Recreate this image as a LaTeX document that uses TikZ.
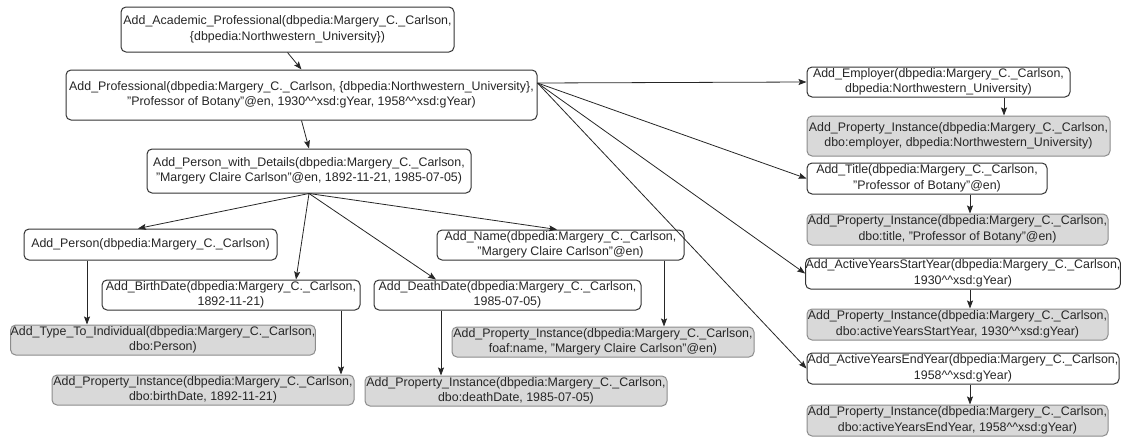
\documentclass[tikz,border=0pt]{standalone}
\usepackage{fontspec}
\setmainfont{Liberation Sans}
\usetikzlibrary{arrows.meta}
\newcommand\mkbox[7]{\node[#2, minimum width={#5-#3}, minimum height={#6-#4}] (#1) at ({(#3+#5)/2},{(#4+#6)/2}) {#7};}
\newcommand\PIa{Add\_Property\_Instance(dbpedia:Margery\_C.\_Carlson,}
\newcommand\cc{\textasciicircum\textasciicircum}
\tikzset{
  basebox/.style={rounded corners=5pt, align=center, inner sep=0pt, text=black!85,
    font=\fontsize{12.4}{15.5}\selectfont},
  wbox/.style={basebox, draw=black!80, line width=1pt, fill=white},
  gbox/.style={basebox, draw=black!45, line width=1pt, fill=black!15},
  arr/.style={draw=black!85, line width=0.8pt, -{Stealth[length=8pt,width=6pt,inset=1.5pt]}},
}
\begin{document}
\begin{tikzpicture}[x=1pt,y=-1pt]
\useasboundingbox (0,0) rectangle (1121,439);
% left part
\mkbox{A}{wbox}{121}{7}{454}{52}{Add\_Academic\_Professional(dbpedia:Margery\_C.\_Carlson,\\\{dbpedia:Northwestern\_University\})}
\mkbox{B}{wbox}{66}{70}{537}{120}{Add\_Professional(dbpedia:Margery\_C.\_Carlson, \{dbpedia:Northwestern\_University\},\\"Professor of Botany"@en, 1930\cc xsd:gYear, 1958\cc xsd:gYear)}
\mkbox{C}{wbox}{147}{149}{471}{193}{Add\_Person\_with\_Details(dbpedia:Margery\_C.\_Carlson,\\"Margery Claire Carlson"@en, 1892-11-21, 1985-07-05)}
\mkbox{P}{wbox}{24}{229}{277}{260}{Add\_Person(dbpedia:Margery\_C.\_Carlson)}
\mkbox{BD}{wbox}{102}{280}{360}{310}{Add\_BirthDate(dbpedia:Margery\_C.\_Carlson,\\1892-11-21)}
\mkbox{T}{gbox}{12}{325}{314}{355}{Add\_Type\_To\_Individual(dbpedia:Margery\_C.\_Carlson,\\dbo:Person)}
\mkbox{PIB}{gbox}{52}{375}{354}{405}{\PIa\\dbo:birthDate, 1892-11-21)}
\mkbox{DD}{wbox}{374}{280}{641}{310}{Add\_DeathDate(dbpedia:Margery\_C.\_Carlson,\\1985-07-05)}
\mkbox{PID}{gbox}{365}{376}{667}{406}{\PIa\\dbo:deathDate, 1985-07-05)}
\mkbox{N}{wbox}{437}{230}{684}{260}{Add\_Name(dbpedia:Margery\_C.\_Carlson,\\"Margery Claire Carlson"@en)}
\mkbox{PIN}{gbox}{452}{327}{754}{357}{\PIa\\foaf:name, "Margery Claire Carlson"@en)}
% right column
\mkbox{E}{wbox}{807}{67}{1070}{97}{Add\_Employer(dbpedia:Margery\_C.\_Carlson,\\dbpedia:Northwestern\_University)}
\mkbox{PIE}{gbox}{807}{116}{1110}{156}{\PIa\\dbo:employer, dbpedia:Northwestern\_University)}
\mkbox{Ti}{wbox}{807}{163}{1047}{194}{Add\_Title(dbpedia:Margery\_C.\_Carlson,\\"Professor of Botany"@en)}
\mkbox{PIT}{gbox}{807}{214}{1108}{245}{\PIa\\dbo:title, "Professor of Botany"@en)}
\mkbox{AS}{wbox}{807}{258}{1119}{289}{Add\_ActiveYearsStartYear(dbpedia:Margery\_C.\_Carlson,\\1930\cc xsd:gYear)}
\mkbox{PIS}{gbox}{807}{309}{1108}{340}{\PIa\\dbo:activeYearsStartYear, 1930\cc xsd:gYear)}
\mkbox{AE}{wbox}{807}{353}{1119}{384}{Add\_ActiveYearsEndYear(dbpedia:Margery\_C.\_Carlson,\\1958\cc xsd:gYear)}
\mkbox{PIX}{gbox}{807}{405}{1108}{436}{\PIa\\dbo:activeYearsEndYear, 1958\cc xsd:gYear)}
% connectors
\draw[arr] (A.south) -- (B.north);
\draw[arr] (B.south) -- (C.north);
\draw[arr] ([yshift=12pt]B.east) -- (E.west);
\draw[arr] ([yshift=12pt]B.east) -- (Ti.west);
\draw[arr] ([yshift=12pt]B.east) -- (AS.west);
\draw[arr] ([yshift=12pt]B.east) -- (AE.west);
\draw[arr] (C.south) -- ([xshift=-12.5pt]P.north);
\draw[arr] (C.south) -- ([xshift=65pt]BD.north);
\draw[arr] (C.south) -- ([xshift=-71.5pt]DD.north);
\draw[arr] (C.south) -- ([xshift=-3.5pt]N.north);
\draw[arr] ([xshift=-63.5pt]P.south) -- ([xshift=-63.5pt]P.south |- T.north);
\draw[arr] ([xshift=110pt]BD.south) -- ([xshift=110pt]BD.south |- PIB.north);
\draw[arr] ([xshift=-66.5pt]DD.south) -- ([xshift=-66.5pt]DD.south |- PID.north);
\draw[arr] ([xshift=103.5pt]N.south) -- ([xshift=103.5pt]N.south |- PIN.north);
\draw[arr] ([xshift=65.5pt]E.south) -- ([xshift=65.5pt]E.south |- PIE.north);
\draw[arr] ([xshift=43pt]Ti.south) -- ([xshift=43pt]Ti.south |- PIT.north);
\draw[arr] ([xshift=7pt]AS.south) -- ([xshift=7pt]AS.south |- PIS.north);
\draw[arr] ([xshift=7pt]AE.south) -- ([xshift=7pt]AE.south |- PIX.north);
\end{tikzpicture}
\end{document}
